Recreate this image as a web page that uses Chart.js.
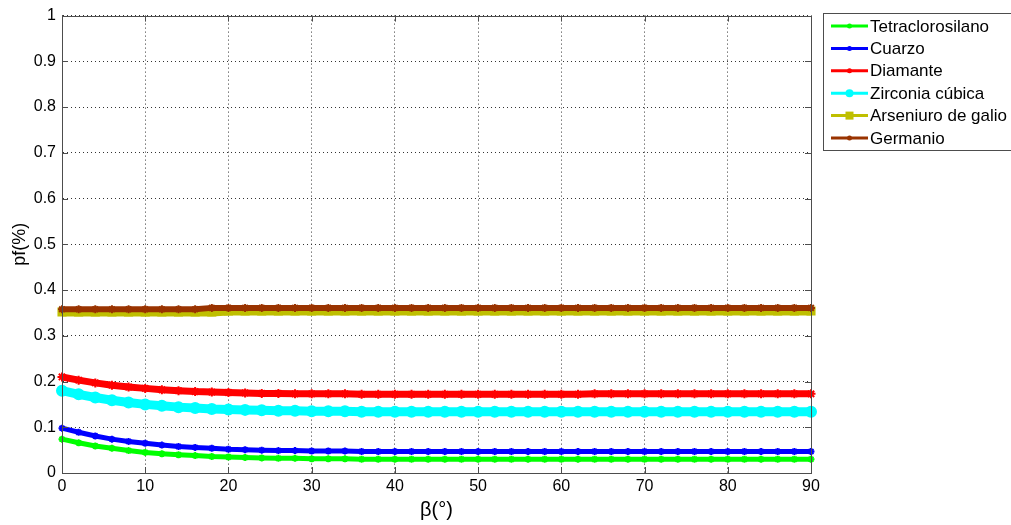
<!DOCTYPE html>
<html>
<head>
<meta charset="utf-8">
<script src="https://cdn.jsdelivr.net/npm/chart.js@4/dist/chart.umd.min.js"></script>
<style>
  html, body { margin: 0; padding: 0; background: #fff; }
  #wrap { width: 1011px; height: 525px; position: relative; }
</style>
</head>
<body>
<div id="wrap"><canvas id="c"></canvas></div>
<script>
// beta angle (degrees), step 2
const betaDeg = [0,2,4,6,8,10,12,14,16,18,20,22,24,26,28,30,32,34,36,38,40,42,44,46,48,50,52,54,56,58,60,62,64,66,68,70,72,74,76,78,80,82,84,86,88,90];

const seriesNames = ['Tetraclorosilano', 'Cuarzo', 'Diamante', 'Zirconia cúbica', 'Arseniuro de galio', 'Germanio'];

const tetraclorosilano = [0.074,0.066,0.059,0.054,0.049,0.045,0.042,0.040,0.038,0.036,0.035,0.034,0.033,0.032,0.032,0.031,0.031,0.031,
  0.030,0.030,0.030,0.030,0.030,0.030,0.030,0.030,0.030,0.030,0.030,0.030,0.030,0.030,0.030,0.030,0.030,0.030,0.030,0.030,0.030,0.030,0.030,0.030,0.030,0.030,0.030,0.030];
const cuarzo = [0.098,0.089,0.081,0.074,0.069,0.065,0.061,0.058,0.056,0.054,0.052,0.051,0.050,0.049,0.049,0.048,0.048,0.048,
  0.047,0.047,0.047,0.047,0.047,0.047,0.047,0.047,0.047,0.047,0.047,0.047,0.047,0.047,0.047,0.047,0.047,0.047,0.047,0.047,0.047,0.047,0.047,0.047,0.047,0.047,0.047,0.047];
const diamante = [0.210,0.203,0.197,0.192,0.188,0.185,0.182,0.180,0.178,0.177,0.176,0.175,0.174,0.174,0.173,0.173,0.173,0.173,
  0.172,0.172,0.172,0.172,0.172,0.172,0.172,0.172,0.172,0.172,0.172,0.172,0.172,0.172,0.173,0.173,0.173,0.173,0.173,0.173,0.173,0.173,0.173,0.173,0.173,0.173,0.173,0.173];
const zirconia = [0.180,0.172,0.165,0.159,0.154,0.150,0.147,0.144,0.142,0.140,0.139,0.138,0.137,0.136,0.136,0.135,0.135,0.135,
  0.134,0.134,0.134,0.134,0.134,0.134,0.134,0.134,0.134,0.134,0.134,0.134,0.134,0.134,0.134,0.134,0.134,0.134,0.134,0.134,0.134,0.134,0.134,0.134,0.134,0.134,0.134,0.134];
const arseniuro = [0.352,0.352,0.352,0.352,0.352,0.352,0.352,0.352,0.352,0.352,
  0.354,0.354,0.354,0.354,0.354,0.354,0.354,0.354,0.354,0.354,0.354,0.354,0.354,0.354,0.354,0.354,0.354,0.354,0.354,0.354,0.354,0.354,0.354,0.354,0.354,0.354,0.354,0.354,0.354,0.354,0.354,0.354,0.354,0.354,0.354,0.354];
const germanio = [0.358,0.358,0.358,0.358,0.358,0.358,0.358,0.358,0.358,
  0.361,0.361,0.361,0.361,0.361,0.361,0.361,0.361,0.361,0.361,0.361,0.361,0.361,0.361,0.361,0.361,0.361,0.361,0.361,0.361,0.361,0.361,0.361,0.361,0.361,0.361,0.361,0.361,0.361,0.361,0.361,0.361,0.361,0.361,0.361,0.361,0.361];

const xTicks = [0,10,20,30,40,50,60,70,80,90];
const yTicks = [0,0.1,0.2,0.3,0.4,0.5,0.6,0.7,0.8,0.9,1];

const FONT = 'Arial, "Liberation Sans", sans-serif';

const styles = [
  { color: '#00ff00', shape: 'star',   r: 3.5, lw: 5 },
  { color: '#0000ff', shape: 'star',   r: 3.5, lw: 5 },
  { color: '#ff0000', shape: 'star',   r: 4.5, lw: 7 },
  { color: '#00ffff', shape: 'circle', r: 5,   lw: 9 },
  { color: '#bfbf00', shape: 'rect',   r: 5,   lw: 9 },
  { color: '#993300', shape: 'star',   r: 4,   lw: 6 }
];
const allSeries = [tetraclorosilano, cuarzo, diamante, zirconia, arseniuro, germanio];

const datasets = allSeries.map((vals, i) => ({
  label: seriesNames[i],
  data: vals.map((v, j) => ({ x: betaDeg[j], y: v })),
  borderColor: styles[i].color,
  backgroundColor: styles[i].color,
  borderWidth: styles[i].lw,
  pointStyle: styles[i].shape,
  pointRadius: styles[i].r,
  pointBorderWidth: 2,
  pointBackgroundColor: styles[i].color,
  pointBorderColor: styles[i].color,
  order: allSeries.length - i,
  clip: 8,
  tension: 0
}));

// box + inside ticks, matlab style
const boxPlugin = {
  id: 'box',
  afterDraw(chart) {
    const { ctx, chartArea: a, scales } = chart;
    ctx.save();
    ctx.strokeStyle = '#4d4d4d';
    ctx.lineWidth = 1;
    ctx.beginPath();
    xTicks.forEach(t => {
      const px = Math.round(scales.x.getPixelForValue(t)) + 0.5;
      ctx.moveTo(px, a.bottom); ctx.lineTo(px, a.bottom - 6);
      ctx.moveTo(px, a.top); ctx.lineTo(px, a.top + 6);
    });
    yTicks.forEach(t => {
      const py = Math.round(scales.y.getPixelForValue(t)) + 0.5;
      ctx.moveTo(a.left, py); ctx.lineTo(a.left + 6, py);
      ctx.moveTo(a.right, py); ctx.lineTo(a.right - 6, py);
    });
    ctx.stroke();
    ctx.strokeRect(Math.round(a.left) + 0.5, Math.round(a.top) + 0.5, Math.round(a.right - a.left), Math.round(a.bottom - a.top));
    ctx.restore();
  }
};

// legend box at the right
const legendPlugin = {
  id: 'boxLegend',
  afterDraw(chart) {
    const ctx = chart.ctx;
    const x0 = 823, y0 = 13, w = 200, h = 137;
    ctx.save();
    ctx.fillStyle = '#fff';
    ctx.fillRect(x0, y0, w, h);
    ctx.strokeStyle = '#4d4d4d';
    ctx.lineWidth = 1;
    ctx.strokeRect(x0 + 0.5, y0 + 0.5, w, h);
    ctx.font = '17px ' + FONT;
    ctx.textBaseline = 'middle';
    chart.data.datasets.forEach((ds, i) => {
      const y = 26 + i * 22.4;
      ctx.strokeStyle = ds.borderColor;
      ctx.lineWidth = 3;
      ctx.beginPath();
      ctx.moveTo(831, y); ctx.lineTo(868, y);
      ctx.stroke();
      ctx.fillStyle = ds.borderColor;
      const s = styles[i];
      ctx.beginPath();
      if (s.shape === 'rect') ctx.fillRect(849.5 - 4, y - 4, 8, 8);
      else { ctx.arc(849.5, y, s.shape === 'circle' ? 4 : 2.5, 0, Math.PI * 2); ctx.fill(); }
      ctx.fillStyle = '#000';
      ctx.fillText(ds.label, 870, y + 1);
    });
    ctx.restore();
  }
};

new Chart(document.getElementById('c'), {
  type: 'line',
  data: { datasets },
  plugins: [boxPlugin, legendPlugin],
  options: {
    responsive: true,
    maintainAspectRatio: false,
    animation: false,
    layout: { padding: { top: 13, right: 200, left: 0, bottom: 0 } },
    plugins: { legend: { display: false }, tooltip: { enabled: false } },
    scales: {
      x: {
        type: 'linear',
        min: 0, max: 90,
        afterBuildTicks: s => { s.ticks = xTicks.map(v => ({ value: v })); },
        afterFit: s => { s.height = 52; },
        grid: { color: '#333', lineWidth: 1, drawTicks: false },
        border: { display: true, color: '#4d4d4d', dash: [1, 3] },
        ticks: { color: '#000', font: { family: FONT, size: 16 }, padding: 4, maxRotation: 0, callback: v => String(v) },
        title: { display: true, text: 'β(°)', color: '#000', font: { family: FONT, size: 20 }, padding: { top: 0, bottom: 3 } }
      },
      y: {
        min: 0, max: 1,
        afterBuildTicks: s => { s.ticks = yTicks.map(v => ({ value: v })); },
        afterFit: s => { s.width = 62; },
        grid: { color: '#333', lineWidth: 1, drawTicks: false },
        border: { display: true, color: '#4d4d4d', dash: [1, 3] },
        ticks: { color: '#000', font: { family: FONT, size: 16 }, padding: 6, callback: v => String(v) },
        title: { display: true, text: 'pf(%)', color: '#000', font: { family: FONT, size: 18 }, padding: { top: 9, bottom: 0 } }
      }
    }
  }
});
</script>
</body>
</html>
